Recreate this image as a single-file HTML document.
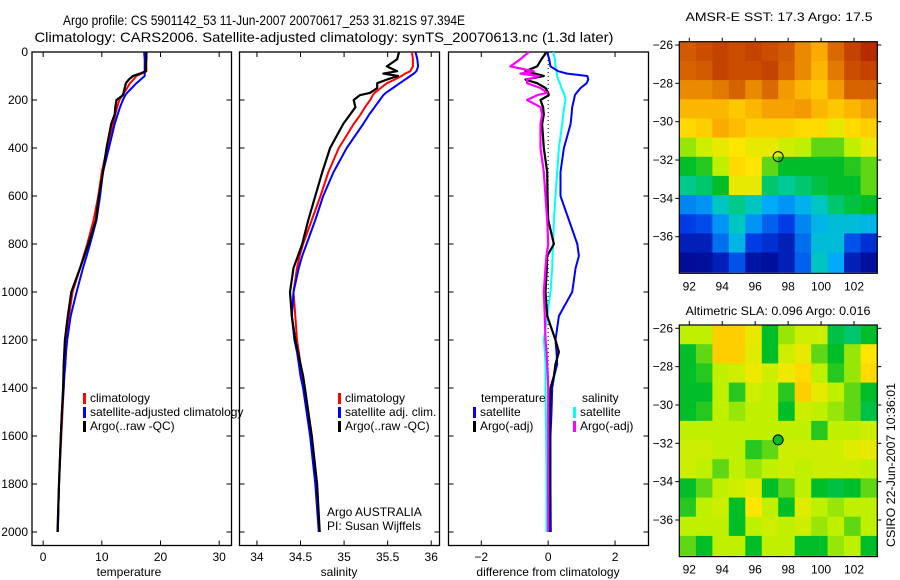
<!DOCTYPE html>
<html><head><meta charset="utf-8">
<style>
html,body{margin:0;padding:0;background:#fff;}
svg{display:block;font-family:"Liberation Sans",sans-serif;}
</style></head>
<body>
<svg id="fig" width="900" height="580" viewBox="0 0 900 580" xmlns="http://www.w3.org/2000/svg">
<text x="264" y="25" font-size="14" text-anchor="middle" textLength="402" lengthAdjust="spacingAndGlyphs">Argo profile: CS 5901142_53 11-Jun-2007 20070617_253 31.821S 97.394E</text>
<text x="324" y="42" font-size="14" text-anchor="middle" textLength="579" lengthAdjust="spacingAndGlyphs">Climatology: CARS2006. Satellite-adjusted climatology: synTS_20070613.nc (1.3d later)</text>
<text x="779" y="21" font-size="12" text-anchor="middle" textLength="187" lengthAdjust="spacingAndGlyphs">AMSR-E SST: 17.3 Argo: 17.5</text>
<text x="778" y="315" font-size="12" text-anchor="middle" textLength="185" lengthAdjust="spacingAndGlyphs">Altimetric SLA: 0.096 Argo: 0.016</text>
<text transform="translate(895,465) rotate(-90)" font-size="12" text-anchor="middle" textLength="164" lengthAdjust="spacingAndGlyphs">CSIRO 22-Jun-2007 10:36:01</text>
<g id="g"></g>
</svg>
<script>
// ---------- data ----------
const depths = [0,30,60,80,90,100,115,130,150,170,180,200,230,260,300,400,500,600,700,800,850,900,1000,1100,1200,1250,1300,1350,1400,1500,1600,1800,2000];
const tempArgo = [17.6,17.6,17.5,17.5,16.5,15.3,14.6,14.1,13.9,13.7,13.6,12.5,12.3,12.2,11.6,10.8,10.2,9.5,9.0,7.7,7.0,6.3,4.8,4.2,3.7,3.6,3.5,3.45,3.4,3.2,3.0,2.7,2.45];
const tempClim = [17.4,17.5,17.6,17.6,16.8,15.9,15.4,14.8,14.3,13.8,13.5,13.0,12.6,12.3,11.9,10.9,10.0,9.4,8.6,7.5,6.9,6.3,5.0,4.4,4.0,3.9,3.7,3.6,3.5,3.3,3.1,2.7,2.5];
const tempSat = [17.2,17.3,17.3,17.3,17.3,17.3,16.6,15.9,15.1,14.3,14.0,13.6,13.1,12.7,12.2,11.2,10.2,9.7,9.1,8.0,7.4,6.8,5.7,4.7,4.1,3.9,3.8,3.6,3.5,3.2,3.0,2.7,2.5];
const salArgo = [35.63,35.61,35.49,35.61,35.45,35.62,35.49,35.38,35.38,35.30,35.18,35.11,35.13,35.07,34.99,34.84,34.75,34.67,34.59,34.52,34.47,34.42,34.38,34.40,34.44,34.47,34.50,34.53,34.55,34.59,34.63,34.69,34.72];
const salClim = [35.78,35.79,35.79,35.76,35.70,35.66,35.58,35.49,35.42,35.35,35.33,35.30,35.24,35.19,35.11,34.94,34.82,34.73,34.63,34.53,34.49,34.46,34.42,34.44,34.46,34.48,34.50,34.52,34.55,34.59,34.63,34.68,34.72];
const salSat = [35.82,35.84,35.85,35.83,35.80,35.76,35.70,35.64,35.56,35.48,35.45,35.41,35.35,35.29,35.22,35.03,34.88,34.76,34.67,34.57,34.52,34.48,34.42,34.40,34.43,34.46,34.48,34.50,34.53,34.57,34.61,34.67,34.71];
const dTempSat = [-0.03,0.03,0.07,0.3,0.57,1.17,1.2,1.15,0.97,0.85,0.8,0.77,0.72,0.7,0.67,0.47,0.37,0.37,0.62,0.87,0.92,0.82,0.72,0.32,0.22,0.25,0.27,0.18,0.12,0.1,0.07,0.07,0.08];
const dTempArgo = [-0.05,-0.2,-0.33,-0.68,-0.4,-0.13,-0.68,-0.33,-0.08,0.0,0.02,-0.23,-0.15,-0.13,-0.18,-0.13,-0.03,-0.02,0.0,0.17,-0.03,-0.04,-0.08,-0.03,0.22,0.32,0.22,0.17,0.07,0.05,0.05,0.05,0.03];
const dSalSat = [0.15,0.2,0.22,0.25,0.26,0.27,0.3,0.35,0.4,0.46,0.49,0.52,0.48,0.45,0.42,0.32,0.27,0.22,0.17,0.15,0.13,0.12,0.07,-0.03,-0.13,-0.1,-0.08,-0.08,-0.08,-0.07,-0.06,-0.05,-0.05];
const dSalArgo = [-0.58,-0.83,-1.13,-0.43,-0.83,-0.28,-0.63,-0.63,-0.23,-0.03,-0.33,-0.63,-0.23,-0.18,-0.23,-0.23,-0.13,-0.08,-0.03,0.0,-0.05,-0.08,-0.13,-0.1,-0.08,-0.05,-0.03,-0.01,0.0,0.0,0.0,0.0,0.0];
const depthTicks = [0,200,400,600,800,1000,1200,1400,1600,1800,2000];
const tempTicks = [0,10,20,30];
const salTicks = [34,34.5,35,35.5,36];
const salTickLabels = ["34","34.5","35","35.5","36"];
const diffTicks = [-2,0,2];
const lonTicks = [92,94,96,98,100,102];
const latTicks = [-26,-28,-30,-32,-34,-36];
const argoLon = 97.394, argoLat = -31.821;
const gridLon0 = 91.4, gridLat0 = -25.83;
const sstGrid = [
[.88,.9,.92,.9,.92,.9,.88,.82,.78,.86,.92,.96],
[.87,.88,.92,.9,.9,.92,.87,.82,.76,.84,.9,.92],
[.82,.82,.84,.87,.82,.86,.8,.76,.73,.8,.87,.87],
[.76,.76,.76,.73,.76,.79,.79,.8,.76,.73,.76,.79],
[.7,.72,.78,.75,.72,.72,.72,.7,.7,.65,.7,.72],
[.58,.62,.65,.68,.65,.65,.62,.6,.55,.55,.6,.65],
[.5,.52,.6,.7,.68,.55,.5,.5,.5,.5,.52,.55],
[.43,.45,.5,.65,.65,.45,.42,.45,.48,.5,.5,.55],
[.25,.27,.38,.43,.38,.3,.27,.32,.38,.45,.48,.5],
[.15,.17,.27,.38,.27,.2,.15,.25,.33,.35,.35,.33],
[.08,.08,.22,.33,.15,.12,.08,.22,.35,.35,.18,.12],
[.03,.04,.08,.18,.05,.04,.08,.2,.38,.3,.08,.04]];
const slaGrid = [
[.6,.6,.72,.72,.65,.5,.58,.62,.62,.48,.45,.5],
[.5,.55,.72,.72,.64,.5,.62,.65,.55,.5,.58,.68],
[.5,.52,.6,.62,.66,.62,.66,.7,.6,.52,.58,.7],
[.5,.5,.6,.52,.62,.6,.52,.72,.65,.6,.55,.5],
[.5,.52,.6,.58,.6,.6,.5,.62,.6,.58,.55,.48],
[.6,.6,.6,.6,.6,.6,.6,.6,.52,.6,.6,.62],
[.62,.62,.6,.6,.52,.55,.62,.62,.62,.62,.64,.65],
[.62,.6,.55,.6,.58,.6,.62,.6,.62,.62,.62,.6],
[.5,.55,.6,.62,.64,.5,.55,.6,.5,.48,.5,.55],
[.52,.6,.62,.5,.68,.6,.5,.64,.6,.58,.6,.6],
[.6,.6,.6,.5,.6,.62,.6,.62,.58,.6,.55,.6],
[.55,.5,.6,.6,.5,.6,.6,.5,.5,.58,.6,.5]];

// ---------- helpers ----------
const NS="http://www.w3.org/2000/svg";
const G=document.getElementById('g');
function mk(tag,attrs,parent){const e=document.createElementNS(NS,tag);for(const k in attrs)e.setAttribute(k,attrs[k]);(parent||G).appendChild(e);return e;}
function txt(s,x,y,anchor,size){const t=mk('text',{x:x,y:y,'font-size':size||12,'text-anchor':anchor||'start'});t.textContent=s;return t;}
const yD = d => 52 + d*0.24;
const panels = [
 {x0:32,x1:231.5,lo:-1.9,hi:32.1,name:'temperature-panel'},
 {x0:239.5,x1:439.5,lo:33.8,hi:36.095,name:'salinity-panel'},
 {x0:448.5,x1:648.5,lo:-2.98,hi:3.0,name:'difference-panel'}];
function sx(p,v){return p.x0+(v-p.lo)/(p.hi-p.lo)*(p.x1-p.x0);}
const TOP=52,BOT=545.5;

function frame(p){
  const r=mk('rect',{x:p.x0,y:TOP,width:p.x1-p.x0,height:BOT-TOP,fill:'none',stroke:'#000','stroke-width':1.3});
  
  
  depthTicks.forEach(d=>{
    mk('line',{x1:p.x0,x2:p.x0+5,y1:yD(d),y2:yD(d),stroke:'#000'});
    mk('line',{x1:p.x1-5,x2:p.x1,y1:yD(d),y2:yD(d),stroke:'#000'});
  });
}
function xticks(p,ticks,labels){
  ticks.forEach((v,i)=>{
    const x=sx(p,v);
    mk('line',{x1:x,x2:x,y1:TOP,y2:TOP+5,stroke:'#000'});
    mk('line',{x1:x,x2:x,y1:BOT-5,y2:BOT,stroke:'#000'});
    const t=txt(labels?labels[i]:String(v).replace('-','\u2212'),x,561,'middle',12);
    
    
  });
}
function line(p,vals,color,w,name){
  const pts=vals.map((v,i)=>sx(p,v).toFixed(1)+','+yD(depths[i]).toFixed(1)).join(' ');
  const e=mk('polyline',{points:pts,fill:'none',stroke:color,'stroke-width':w,'stroke-linejoin':'round'});
  
  
}
function legendRow(x,y,color,label,name){
  mk('rect',{x:x,y:y-9,width:3,height:11,fill:color});
  const t=txt(label,x+7,y,'start',12);
  
  
}

panels.forEach(frame);
depthTicks.forEach(d=>{
  const t=txt(String(d),28,yD(d)+4,'end',12);
  
  
});
xticks(panels[0],tempTicks);
xticks(panels[1],salTicks,salTickLabels);
xticks(panels[2],diffTicks);
[['temperature',129,'temperature-axis-title'],['salinity',339,'salinity-axis-title'],['difference from climatology',548,'difference-axis-title']].forEach(a=>{
  const t=txt(a[0],a[1],576,'middle',12);
  
  
});

line(panels[0],tempClim,'#ff0000',2,'temp-climatology-line');
line(panels[0],tempSat,'#0000ff',2,'temp-satellite-line');
line(panels[0],tempArgo,'#000000',2.2,'temp-argo-line');
line(panels[1],salClim,'#ff0000',2,'sal-climatology-line');
line(panels[1],salSat,'#0000ff',2,'sal-satellite-line');
line(panels[1],salArgo,'#000000',2.2,'sal-argo-line');
const z=sx(panels[2],0);
mk('line',{x1:z,x2:z,y1:TOP,y2:yD(2000),stroke:'#000','stroke-dasharray':'1,3'});
line(panels[2],dSalSat,'#00ffff',2,'diff-sal-satellite-line');
line(panels[2],dTempSat,'#0000ff',2,'diff-temp-satellite-line');
line(panels[2],dTempArgo,'#000000',2.2,'diff-temp-argo-line');
line(panels[2],dSalArgo,'#ff00ff',2.2,'diff-sal-argo-line');

legendRow(83,402,'#ff0000','climatology','legend-climatology');
legendRow(83,416,'#0000ff','satellite-adjusted climatology','legend-satellite-adjusted');
legendRow(83,430,'#000000','Argo(..raw -QC)','legend-argo');
legendRow(338,402,'#ff0000','climatology','legend-sal-climatology');
legendRow(338,416,'#0000ff','satellite adj. clim.','legend-sal-satellite');
legendRow(338,430,'#000000','Argo(..raw -QC)','legend-sal-argo');
let t=txt('temperature',481,402,'start',12);


t=txt('salinity',582,402,'start',12);


legendRow(473,416,'#0000ff','satellite','legend-diff-temp-satellite');
legendRow(473,430,'#000000','Argo(-adj)','legend-diff-temp-argo');
legendRow(573,416,'#00ffff','satellite','legend-diff-sal-satellite');
legendRow(573,430,'#ff00ff','Argo(-adj)','legend-diff-sal-argo');
t=txt('Argo AUSTRALIA',327,516,'start',12);


t=txt('PI: Susan Wijffels',327,530,'start',12);



// ---------- maps ----------
const stops=[[0,[0,0,130]],[.15,[0,60,230]],[.3,[0,170,250]],[.4,[0,205,180]],[.5,[0,190,40]],[.6,[190,240,0]],[.68,[255,230,0]],[.78,[250,170,0]],[.88,[210,90,0]],[1,[170,20,0]]];
function cmap(v){
  for(let i=1;i<stops.length;i++){if(v<=stops[i][0]){const a=stops[i-1],b=stops[i],f=(v-a[0])/(b[0]-a[0]);
    return 'rgb('+a[1].map((c,k)=>Math.round(c+(b[1][k]-c)*f)).join(',')+')';}}
  return 'rgb(170,20,0)';
}
const mapX0=679.3,mapX1=877.3,pxLon=16.47,pxLat=19.17;
function drawMap(top,grid,name,dotFill){
  const lx=lon=>689.3+(lon-92)*pxLon;
  const ly=lat=>top+3.3+(-26-lat)*pxLat;
  const bot=top+231.6;
  const cp=mk('clipPath',{id:'clip'+name});
  mk('rect',{x:mapX0,y:top,width:mapX1-mapX0,height:bot-top},cp);
  const g=mk('g',{'clip-path':'url(#clip'+name+')'});
  
  
  grid.forEach((row,r)=>row.forEach((v,c)=>{
    const x=lx(gridLon0+c), y=ly(gridLat0-r);
    const cell=mk('rect',{x:x.toFixed(1),y:y.toFixed(1),width:(pxLon+0.8).toFixed(1),height:(pxLat+0.8).toFixed(1),fill:cmap(v)},g);
    
    
  }));
  const fr=mk('rect',{x:mapX0,y:top,width:mapX1-mapX0,height:bot-top,fill:'none',stroke:'#000','stroke-width':1.2});
  
  
  lonTicks.forEach(l=>{
    const x=lx(l);
    mk('line',{x1:x,x2:x,y1:top-4,y2:top,stroke:'#000'});
    const tl=txt(String(l),x,bot+17,'middle',12);
    
    
  });
  latTicks.forEach(l=>{
    const y=ly(l);
    mk('line',{x1:mapX0-4,x2:mapX0,y1:y,y2:y,stroke:'#000'});
    mk('line',{x1:mapX1,x2:mapX1+4,y1:y,y2:y,stroke:'#000'});
    const tl=txt(String(l).replace('-','\u2212'),673,y+4,'end',12);
    
    
  });
  const dot=mk('circle',{cx:lx(argoLon),cy:ly(argoLat),r:5,fill:dotFill,stroke:'#000','stroke-width':1});
  
  
}
drawMap(41.7,sstGrid,'sst-map','none');
drawMap(325,slaGrid,'sla-map','#00c020');
</script>
</body></html>
